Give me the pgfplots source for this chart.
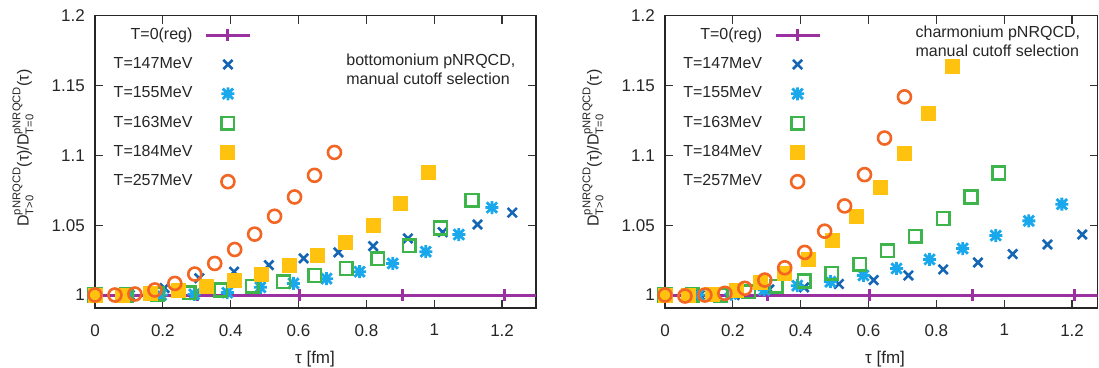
\documentclass[border=0pt]{standalone}
\usepackage{amsmath}
\usepackage{fontspec}
\setmainfont{Liberation Sans}
\usepackage{pgfplots}
\pgfplotsset{compat=1.18}
\definecolor{cpurple}{HTML}{9B30A0}
\definecolor{cdblue}{HTML}{1565B5}
\definecolor{clblue}{HTML}{1AA8EC}
\definecolor{cgreen}{HTML}{3DB54A}
\definecolor{cyellow}{HTML}{FFC20E}
\definecolor{corange}{HTML}{F26522}
\pgfdeclareplotmark{asterx}{%
  \pgfpathmoveto{\pgfqpoint{-\pgfplotmarksize}{0pt}}\pgfpathlineto{\pgfqpoint{\pgfplotmarksize}{0pt}}%
  \pgfpathmoveto{\pgfqpoint{0pt}{-\pgfplotmarksize}}\pgfpathlineto{\pgfqpoint{0pt}{\pgfplotmarksize}}%
  \pgfpathmoveto{\pgfqpoint{-0.8\pgfplotmarksize}{-0.8\pgfplotmarksize}}\pgfpathlineto{\pgfqpoint{0.8\pgfplotmarksize}{0.8\pgfplotmarksize}}%
  \pgfpathmoveto{\pgfqpoint{-0.8\pgfplotmarksize}{0.8\pgfplotmarksize}}\pgfpathlineto{\pgfqpoint{0.8\pgfplotmarksize}{-0.8\pgfplotmarksize}}%
  \pgfusepathqstroke}
\newcommand{\fs}{\fontsize{16}{19}\selectfont}
\newcommand{\ft}{\fontsize{17}{20}\selectfont}
\pgfplotsset{
  panel/.style={
    scale only axis, height=292.3pt, ymin=0.9907, ymax=1.2, xmin=0,
    xtick={0,0.2,0.4,0.6,0.8,1.0,1.2}, ytick={1,1.05,1.1,1.15,1.2},
    tick align=inside, major tick length=8pt,
    axis line style={line width=1.3pt, color=black!85},
    tick style={line width=1.2pt, color=black!80},
    tick label style={font=\ft, text=black!85}, /pgf/number format/assume math mode=true,
    yticklabel style={inner sep=0pt, xshift=-10pt, anchor=east},
    xticklabel style={inner sep=0pt, yshift=-16pt, anchor=north},
    every axis y label/.style={at={(axis description cs:0,0.547)}, xshift=-72pt, rotate=90, anchor=center, font=\fs, text=black!85},
    every axis x label/.style={at={(axis description cs:0,0)}, xshift=220pt, yshift=-51pt, anchor=center, font=\ft, text=black!85},
    xlabel={τ [fm]},
    ylabel={$\text{D}^{\text{pNRQCD}}_{\text{T>0}}\text{(τ)/D}^{\text{pNRQCD}}_{\text{T=0}}\text{(τ)}$},
    clip mode=individual,
    legend image code/.code={\draw[mark repeat=2,mark phase=2,##1] plot coordinates {(0pt,0pt) (22pt,0pt) (44pt,0pt)};},
    legend style={draw=none, fill=none, at={(axis description cs:0.042,0.958)}, anchor=north west,
      inner sep=0pt, font=\fs, row sep=15.3pt, column sep=12pt,
      nodes={inner sep=0pt, text height=11pt, text depth=3pt, text=black!85}},
    legend cell align=right, legend plot pos=right,
  },
  s0/.style={color=cpurple, line width=3pt, mark=|, mark size=6pt},
  s147/.style={only marks, mark=x, mark size=6.5pt, color=cdblue, line width=2.6pt},
  s155/.style={only marks, mark=asterx, mark size=6.5pt, color=clblue, line width=2.8pt},
  s163/.style={only marks, mark=square, mark size=6.3pt, color=cgreen, line width=2.5pt},
  s184/.style={only marks, mark=square*, mark size=7pt, color=cyellow, line width=1pt},
  s257/.style={only marks, mark=o, mark size=6.5pt, color=corange, line width=2.6pt},
}
\begin{document}
\begin{tikzpicture}
\path[use as bounding box] (0,0) rectangle (1099pt,367pt);
\begin{axis}[panel, at={(95pt,59pt)}, anchor=south west, width=441pt, xmax=1.3]
\addplot[s0, mark indices={1,2,3,4,5}, legend image post style={mark indices={2}}] coordinates {(0,1) (0.302,1) (0.604,1) (0.906,1) (1.208,1) (1.3,1)};
\addlegendentry{T=0(reg)}
\addplot[s147] coordinates {(0,1.0) (0.1025,1.0) (0.205,1.005) (0.3075,1.012) (0.41,1.0167) (0.5125,1.0214) (0.615,1.0262) (0.7175,1.0305) (0.82,1.035) (0.9225,1.0405) (1.025,1.045) (1.1275,1.0505) (1.23,1.059)};
\addlegendentry{T=147MeV}
\addplot[s155] coordinates {(0,1.0) (0.0975,1.0) (0.195,1.0) (0.2925,1.0005) (0.39,1.0017) (0.4875,1.0055) (0.585,1.0083) (0.6825,1.0117) (0.78,1.0167) (0.8775,1.0226) (0.975,1.031) (1.0725,1.0433) (1.17,1.0626)};
\addlegendentry{T=155MeV}
\addplot[s163] coordinates {(0,1.0) (0.0926,1.0) (0.1852,1.0007) (0.2778,1.0017) (0.3704,1.0036) (0.463,1.0064) (0.5556,1.0095) (0.6482,1.014) (0.7408,1.019) (0.8334,1.026) (0.926,1.0352) (1.0186,1.048) (1.1112,1.0679)};
\addlegendentry{T=163MeV}
\addplot[s184] coordinates {(0,1.0) (0.082,1.0) (0.164,1.0012) (0.246,1.0031) (0.328,1.006) (0.41,1.0102) (0.492,1.0148) (0.574,1.021) (0.656,1.0286) (0.738,1.0376) (0.82,1.0495) (0.902,1.0655) (0.984,1.0874)};
\addlegendentry{T=184MeV}
\addplot[s257] coordinates {(0,1.0) (0.0588,1.0) (0.1176,1.0007) (0.1765,1.0036) (0.2353,1.0083) (0.2941,1.015) (0.3529,1.0226) (0.4118,1.0326) (0.4706,1.0436) (0.5294,1.0564) (0.5882,1.0702) (0.6471,1.0857) (0.7059,1.1021)};
\addlegendentry{T=257MeV}
\node[anchor=base west, inner sep=0pt, font=\fs, text=black!85] at (axis description cs:0.5695,0.828) {bottomonium pNRQCD,};
\node[anchor=base west, inner sep=0pt, font=\fs, text=black!85] at (axis description cs:0.5695,0.763) {manual cutoff selection};
\end{axis}
\begin{axis}[panel, at={(665pt,59pt)}, anchor=south west, width=432.5pt, xmax=1.275]
\addplot[s0, mark indices={1,2,3,4,5}, legend image post style={mark indices={2}}] coordinates {(0,1) (0.302,1) (0.604,1) (0.906,1) (1.208,1) (1.275,1)};
\addlegendentry{T=0(reg)}
\addplot[s147] coordinates {(0,1.0) (0.1025,1.0) (0.205,1.0) (0.3075,1.004) (0.41,1.0055) (0.5125,1.0079) (0.615,1.0107) (0.7175,1.014) (0.82,1.0183) (0.9225,1.0233) (1.025,1.0293) (1.1275,1.0362) (1.23,1.0433)};
\addlegendentry{T=147MeV}
\addplot[s155] coordinates {(0,1.0) (0.0975,1.0) (0.195,1.0007) (0.2925,1.0036) (0.39,1.0067) (0.4875,1.0095) (0.585,1.014) (0.6825,1.019) (0.78,1.0255) (0.8775,1.0333) (0.975,1.0426) (1.0725,1.0531) (1.17,1.065)};
\addlegendentry{T=155MeV}
\addplot[s163] coordinates {(0,1.0) (0.082,1.0) (0.164,1.0) (0.246,1.0024) (0.328,1.0064) (0.41,1.01) (0.492,1.0155) (0.574,1.0221) (0.656,1.0317) (0.738,1.0421) (0.82,1.0548) (0.902,1.0702) (0.984,1.0874)};
\addlegendentry{T=163MeV}
\addplot[s184] coordinates {(0,1.0) (0.0706,1.0) (0.1412,1.0007) (0.2118,1.003) (0.2824,1.0088) (0.353,1.0155) (0.4236,1.0255) (0.4942,1.0393) (0.5648,1.056) (0.6354,1.0767) (0.706,1.1012) (0.7766,1.1302) (0.8472,1.1636)};
\addlegendentry{T=184MeV}
\addplot[s257] coordinates {(0,1.0) (0.0588,0.9993) (0.1176,1.0) (0.1765,1.0012) (0.2353,1.0048) (0.2941,1.0107) (0.3529,1.0195) (0.4118,1.0305) (0.4706,1.0457) (0.5294,1.0638) (0.5882,1.0862) (0.6471,1.1124) (0.7059,1.1419)};
\addlegendentry{T=257MeV}
\node[anchor=base west, inner sep=0pt, font=\fs, text=black!85] at (axis description cs:0.579,0.927) {charmonium pNRQCD,};
\node[anchor=base west, inner sep=0pt, font=\fs, text=black!85] at (axis description cs:0.579,0.862) {manual cutoff selection};
\end{axis}
\end{tikzpicture}
\end{document}
